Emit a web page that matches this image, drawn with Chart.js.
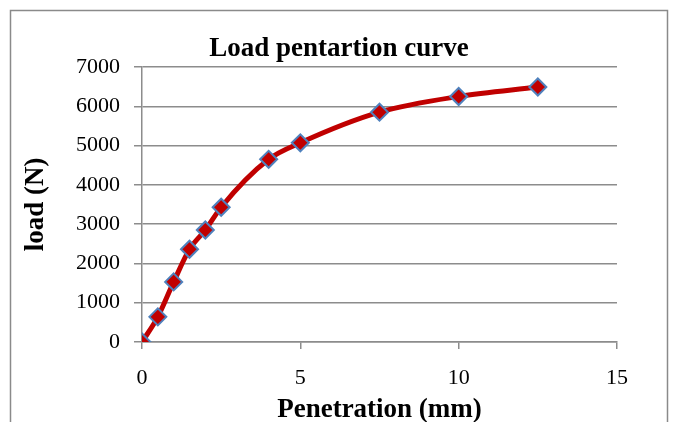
<!DOCTYPE html>
<html>
<head>
<meta charset="utf-8">
<script src="https://cdn.jsdelivr.net/npm/chart.js@4.4.0/dist/chart.umd.min.js"></script>
<style>
  html, body { margin: 0; padding: 0; background: #fff; }
  #wrap { width: 678px; height: 422px; position: relative; }
</style>
</head>
<body>
<div id="wrap"><canvas id="loadChart" width="678" height="422"></canvas></div>
<script>
// penetration (mm) and load (N)
var penetration = [0, 0.5, 1, 1.5, 2, 2.5, 4, 5, 7.5, 10, 12.5];
var load = [0, 640, 1530, 2360, 2850, 3430, 4650, 5070, 5850, 6250, 6490];
var xTicks = [0, 5, 10, 15];
var yTicks = [0, 1000, 2000, 3000, 4000, 5000, 6000, 7000];

var serif = "'Liberation Serif', 'DejaVu Serif', serif";
var gridGray = '#8c8c8c';

// outer frame of the chart object
var framePlugin = {
    id: 'frame',
    beforeDraw: function(chart){
        var c = chart.ctx;
        c.save();
        c.fillStyle = '#fff';
        c.fillRect(0, 0, chart.width, chart.height);
        c.strokeStyle = '#8a8a8a';
        c.lineWidth = 1.5;
        c.strokeRect(10.5, 10.5, 657, 440);
        c.restore();
    }
};

var ctx = document.getElementById('loadChart');
new Chart(ctx, {
    type: 'line',
    data: {
        datasets: [{
            data: penetration.map(function(p, i){ return {x: p, y: load[i]}; }),
            borderColor: '#c00000',
            borderWidth: 5,
            cubicInterpolationMode: 'monotone',
            pointStyle: 'rectRot',
            pointRadius: 8.5,
            pointHoverRadius: 8.5,
            pointBackgroundColor: '#c00000',
            pointBorderColor: '#4f81bd',
            pointBorderWidth: 2,
            fill: false
        }]
    },
    options: {
        responsive: false,
        animation: false,
        layout: { padding: 0 },
        plugins: {
            legend: { display: false },
            tooltip: { enabled: false },
            title: {
                display: true,
                text: 'Load pentartion curve',
                color: '#000',
                font: { family: serif, size: 27, weight: 'bold', lineHeight: 1 },
                padding: { top: 36, bottom: 4 }
            }
        },
        scales: {
            x: {
                type: 'linear',
                min: 0, max: 15,
                afterBuildTicks: function(s){ s.ticks = xTicks.map(function(v){ return {value: v}; }); },
                afterFit: function(s){ s.height = 80; },
                grid: { drawOnChartArea: false, color: gridGray, lineWidth: 1.5, tickLength: 7 },
                border: { color: gridGray, width: 1.5 },
                ticks: { color: '#000', padding: 16, maxRotation: 0, font: { family: serif, size: 22 } },
                title: {
                    display: true,
                    text: 'Penetration (mm)',
                    color: '#000',
                    font: { family: serif, size: 27, weight: 'bold', lineHeight: 1 },
                    padding: { top: 0, bottom: -2 }
                }
            },
            y: {
                type: 'linear',
                min: 0, max: 7000,
                afterBuildTicks: function(s){ s.ticks = yTicks.map(function(v){ return {value: v}; }); },
                afterFit: function(s){ s.width = 142; },
                grid: { color: gridGray, lineWidth: 1.5, tickLength: 8 },
                border: { color: gridGray, width: 1.5 },
                ticks: {
                    color: '#000', padding: 14, font: { family: serif, size: 22 },
                    callback: function(v){ return String(v); }
                },
                title: {
                    display: true,
                    text: 'load (N)',
                    color: '#000',
                    font: { family: serif, size: 27, weight: 'bold', lineHeight: 1 },
                    padding: { top: 23, bottom: 0 }
                }
            },
            y2: {
                type: 'linear',
                position: 'right',
                min: 0, max: 7000,
                afterFit: function(s){ s.width = 61; },
                grid: { display: false },
                border: { display: false },
                ticks: { display: false }
            }
        }
    },
    plugins: [framePlugin]
});
</script>
</body>
</html>
